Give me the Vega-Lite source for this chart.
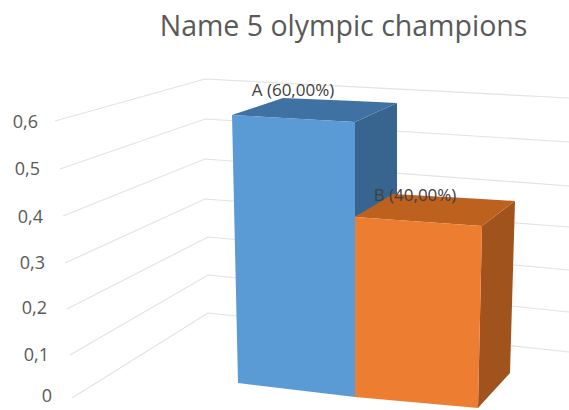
{
  "$schema": "https://vega.github.io/schema/vega-lite/v6.json",
  "width": 569,
  "height": 410,
  "padding": 0,
  "autosize": {"type": "none"},
  "background": "white",
  "view": {"stroke": null},
  "title": {"text": "Name 5 olympic champions", "font": "Open Sans", "fontSize": 28.5, "fontWeight": "normal", "color": "#595959", "anchor": "middle", "frame": "group", "dx": 59, "dy": 0, "offset": -70, "baseline": "bottom"},
  "datasets": {
    "walls": [
      {"level": "0.6", "h": 55, "v": 121}, {"level": "0.6", "h": 205, "v": 79}, {"level": "0.6", "h": 569, "v": 98},
      {"level": "0.5", "h": 60, "v": 169}, {"level": "0.5", "h": 205, "v": 119}, {"level": "0.5", "h": 569, "v": 142},
      {"level": "0.4", "h": 63, "v": 216}, {"level": "0.4", "h": 205, "v": 159}, {"level": "0.4", "h": 569, "v": 186},
      {"level": "0.3", "h": 65, "v": 263}, {"level": "0.3", "h": 205, "v": 199}, {"level": "0.3", "h": 569, "v": 227},
      {"level": "0.2", "h": 67, "v": 309}, {"level": "0.2", "h": 208, "v": 237}, {"level": "0.2", "h": 569, "v": 270},
      {"level": "0.1", "h": 70, "v": 355}, {"level": "0.1", "h": 208, "v": 275}, {"level": "0.1", "h": 569, "v": 312},
      {"level": "0", "h": 72, "v": 398}, {"level": "0", "h": 208, "v": 313}, {"level": "0", "h": 569, "v": 352}
    ],
    "faces": [
      {"face": "A side", "h": 355, "v": 122, "v2": 217},
      {"face": "A side", "h": 397, "v": 103, "v2": 195},
      {"face": "A top", "h": 232, "v": 115, "v2": 115},
      {"face": "A top", "h": 283, "v": 98, "v2": 118},
      {"face": "A top", "h": 355, "v": 101, "v2": 122},
      {"face": "A top", "h": 397, "v": 103, "v2": 103},
      {"face": "A front", "h": 232, "v": 115, "v2": 115},
      {"face": "A front", "h": 238, "v": 115.3, "v2": 383},
      {"face": "A front", "h": 355, "v": 122, "v2": 397},
      {"face": "B side", "h": 478, "v": 408, "v2": 408},
      {"face": "B side", "h": 482, "v": 226, "v2": 403.6},
      {"face": "B side", "h": 510, "v": 204.8, "v2": 373},
      {"face": "B side", "h": 515, "v": 201, "v2": 201},
      {"face": "B top", "h": 355, "v": 217, "v2": 217},
      {"face": "B top", "h": 393, "v": 194, "v2": 219.7},
      {"face": "B top", "h": 482, "v": 199, "v2": 226},
      {"face": "B top", "h": 515, "v": 201, "v2": 201},
      {"face": "B front", "h": 355, "v": 217, "v2": 397},
      {"face": "B front", "h": 478, "v": 225.7, "v2": 408},
      {"face": "B front", "h": 482, "v": 226, "v2": 226}
    ],
    "ticks": [
      {"label": "0,6", "h": 38, "v": 123},
      {"label": "0,5", "h": 40, "v": 170},
      {"label": "0,4", "h": 43, "v": 218},
      {"label": "0,3", "h": 45, "v": 264},
      {"label": "0,2", "h": 47, "v": 309},
      {"label": "0,1", "h": 49, "v": 356},
      {"label": "0", "h": 52, "v": 397}
    ],
    "answers": [
      {"answer": "A", "share": 0.6, "label": "A (60,00%)", "h": 293, "v": 91},
      {"answer": "B", "share": 0.4, "label": "B (40,00%)", "h": 415, "v": 196}
    ]
  },
  "layer": [
    {
      "data": {"name": "walls"},
      "mark": {"type": "line", "stroke": "#e3e3e3", "strokeWidth": 1.2},
      "encoding": {
        "x": {"field": "h", "type": "quantitative", "scale": {"domain": [0, 569], "nice": false, "zero": false}, "axis": null},
        "y": {"field": "v", "type": "quantitative", "scale": {"domain": [410, 0], "nice": false, "zero": false}, "axis": null},
        "detail": {"field": "level"}
      }
    },
    {
      "data": {"name": "faces"},
      "mark": {"type": "area", "interpolate": "linear"},
      "encoding": {
        "x": {"field": "h", "type": "quantitative", "axis": null},
        "y": {"field": "v", "type": "quantitative", "axis": null},
        "y2": {"field": "v2"},
        "color": {
          "field": "face",
          "type": "nominal",
          "legend": null,
          "sort": null,
          "scale": {
            "domain": ["A side", "A top", "A front", "B side", "B top", "B front"],
            "range": ["#38658f", "#3f71a3", "#5b9bd5", "#a0531c", "#bd611f", "#ed7d31"]
          }
        }
      }
    },
    {
      "data": {"name": "ticks"},
      "mark": {"type": "text", "align": "right", "baseline": "middle", "font": "Open Sans", "fontSize": 18, "color": "#595959"},
      "encoding": {
        "x": {"field": "h", "type": "quantitative", "axis": null},
        "y": {"field": "v", "type": "quantitative", "axis": null},
        "text": {"field": "label"}
      }
    },
    {
      "data": {"name": "answers"},
      "mark": {"type": "text", "align": "center", "baseline": "middle", "font": "Open Sans", "fontSize": 17, "color": "#404040"},
      "encoding": {
        "x": {"field": "h", "type": "quantitative", "axis": null},
        "y": {"field": "v", "type": "quantitative", "axis": null},
        "text": {"field": "label"}
      }
    }
  ]
}
